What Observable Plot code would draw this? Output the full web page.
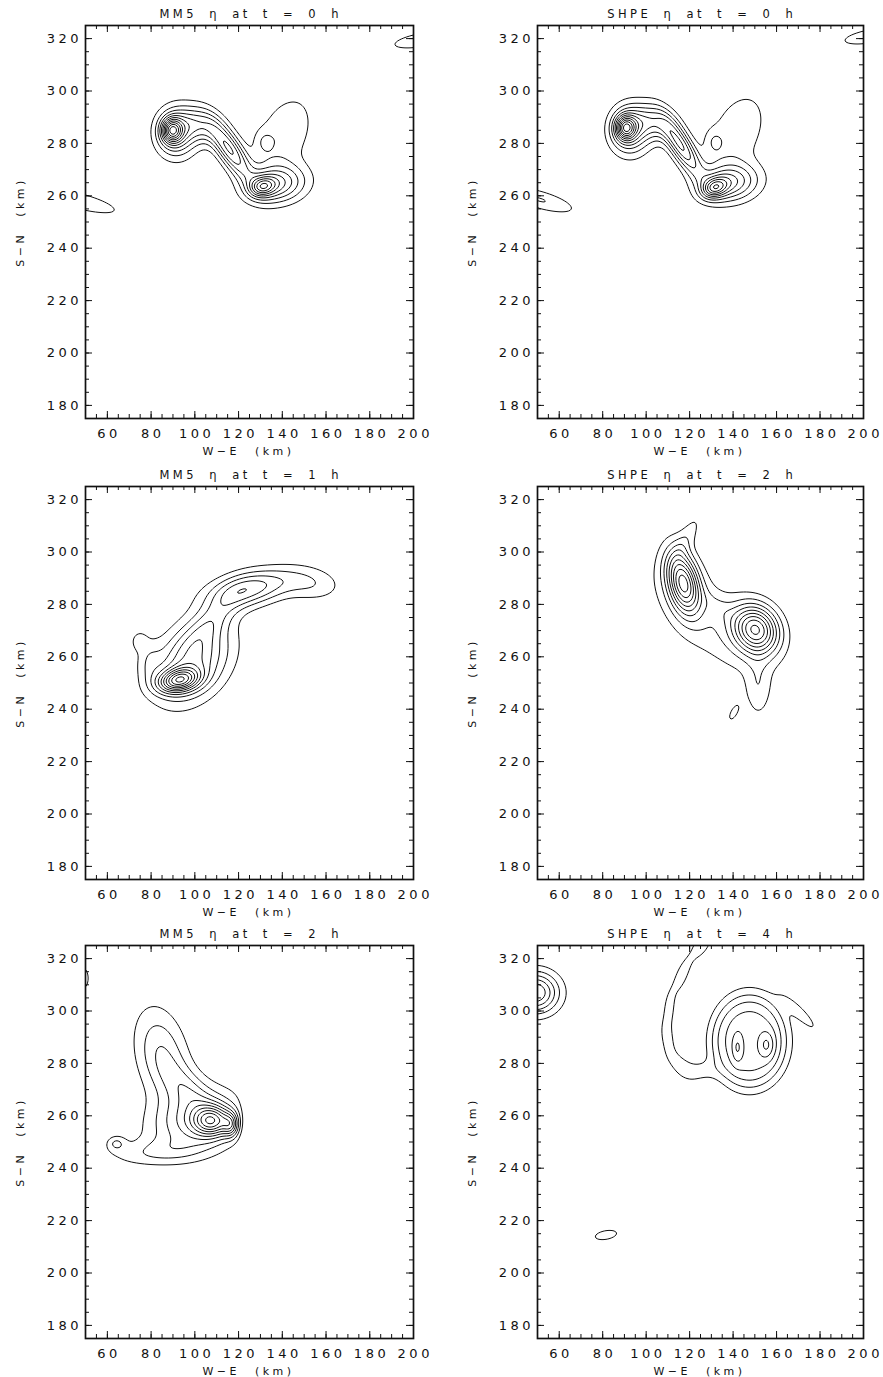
<!DOCTYPE html>
<html>
<head>
<meta charset="utf-8">
<script src="https://cdn.jsdelivr.net/npm/d3@7"></script>
<script src="https://cdn.jsdelivr.net/npm/@observablehq/plot@0.6"></script>
<style>
html,body{margin:0;padding:0;background:#fff;}
body{width:883px;height:1377px;position:relative;overflow:hidden;font-family:"DejaVu Sans",sans-serif;color:#111;}
.cell{position:absolute;}
.cell svg{display:block;overflow:visible;max-width:none;}
.cell svg text{letter-spacing:3.5px;}
.lbl{position:absolute;white-space:pre;line-height:1;}
.title{font-size:11.5px;letter-spacing:3.5px;word-spacing:5px;}
.xlab{font-size:11px;letter-spacing:3.5px;word-spacing:8px;}
</style>
</head>
<body>
<script>
// ---- data ----
const panelTitles = [
  "MM5 η at t = 0 h", "SHPE η at t = 0 h",
  "MM5 η at t = 1 h", "SHPE η at t = 2 h",
  "MM5 η at t = 2 h", "SHPE η at t = 4 h"
];
const xAxisTitle = "W−E (km)";
const yAxisTitle = "S−N (km)";
const xDomain = [50, 200];
const yDomain = [175, 325];
const xLabelTicks = [60, 80, 100, 120, 140, 160, 180, 200];
const xMajorTicks = [60, 80, 100, 120, 140, 160, 180];
const xMinorTicks = [55, 60, 65, 70, 75, 80, 85, 90, 95, 100, 105, 110, 115, 120, 125, 130, 135, 140, 145, 150, 155, 160, 165, 170, 175, 180, 185, 190, 195];
const yLabelTicks = [180, 200, 220, 240, 260, 280, 300, 320];
const yMinorTicks = [180, 185, 190, 195, 200, 205, 210, 215, 220, 225, 230, 235, 240, 245, 250, 255, 260, 265, 270, 275, 280, 285, 290, 295, 300, 305, 310, 315, 320];

// eta field features: [x km, y km, amplitude, spread along axis, spread across, axis angle deg, profile power]
const mm5T0Blobs = [
  [89.5, 285, 6.5, 3.2, 3.2, 0],
  [91.5, 284, 5.0, 6.3, 6.3, 0],
  [102, 287, 3.5, 7, 4.5, -15],
  [116, 277.5, 6.0, 9.5, 3.5, -50],
  [131, 263.5, 4.5, 4, 2.5, 10],
  [137, 264.5, 5.0, 9.5, 5, 5],
  [141, 283.5, 1.9, 12, 8, 55],
  [131.5, 280.5, 1.1, 3, 3.3, 0],
  [47, 258, 1.6, 17, 3, -12],
  [204, 319.5, 1.5, 14, 2.8, 8]
];
const shpeT0Blobs = [
  [90.5, 286, 6.5, 3.2, 3.2, 0],
  [92.5, 285, 5.0, 6.3, 6.3, 0],
  [103, 288, 3.5, 7, 4.5, -15],
  [116, 279, 6.0, 9.5, 3.3, -52],
  [131.5, 263, 4.8, 4, 2.5, 15],
  [138, 265, 5.0, 9.5, 5, 5],
  [142, 284.5, 1.9, 12, 8, 55],
  [131, 280.5, 1.2, 3, 3.5, 0],
  [51, 258.5, 2.05, 12.5, 2.7, -13],
  [204, 321, 1.5, 14, 2.8, 8]
];
const mm5T1Blobs = [
  [92.5, 251, 7.5, 6.5, 3.0, 8],
  [99, 258, 5.0, 13, 9, 35],
  [125, 286, 4.5, 13, 4.5, 10],
  [108, 274, 2.2, 11, 4.5, 40],
  [153, 288, 1.8, 10, 4.5, -5],
  [79, 258, 1.3, 4, 6, 0],
  [74.5, 266, 1.4, 2.5, 2.5, 0]
];
const shpeT2Blobs = [
  [117, 288.5, 8.5, 8.5, 4.8, -72],
  [150.5, 270.5, 8.5, 7.5, 6.2, -25],
  [129, 274, 1.7, 23, 10, -35],
  [133, 279, 0.8, 6, 3, -30],
  [119, 306, 1.3, 8, 2.8, 55],
  [151.5, 248, 1.5, 8, 4, 90],
  [140.3, 238.6, 1.3, 3.5, 1.6, 55]
];
const mm5T2Blobs = [
  [100, 258, 4.0, 14, 8, 10],
  [108, 258, 6.5, 6, 4, 0],
  [116.5, 256.5, 3.5, 2.5, 3.2, 0],
  [131, 257, -4.5, 5, 9, 0],
  [85, 283, 3.0, 13, 8, 108],
  [97, 270, 2.0, 9, 5, -40],
  [82, 246, 1.6, 16, 3.5, 3],
  [64, 249.5, 1.8, 3, 2, 0],
  [48.5, 312.5, 1.5, 3, 4.5, 0]
];
const shpeT4Blobs = [
  [49, 307, 6, 7.5, 5.5, 0],
  [147.5, 288.5, 4.6, 15, 15.5, 0, 4],
  [142, 286, 1.6, 1.8, 4, 0],
  [155.5, 287, 1.8, 2.5, 3.5, 0],
  [171, 299, 1.4, 9, 2.2, -40],
  [124, 277, 1.3, 6, 3, 0],
  [126, 326, 1.35, 7, 3.5, 55],
  [116, 313, 1.35, 6, 2.5, 65],
  [110.5, 300, 1.35, 6, 2.2, 85],
  [110, 289, 1.35, 5, 2.2, 105],
  [115, 280, 1.35, 5, 2.5, 140],
  [81.5, 214.5, 1.4, 6, 2, 8]
];
const mm5T0Levels = [1, 2, 3, 4, 5, 6, 7, 8, 9, 10, 11];
const shpeT0Levels = [1, 2, 3, 4, 5, 6, 7, 8, 9, 10, 11];
const mm5T1Levels = [1, 2, 3, 4, 5, 6, 7, 8, 9, 10, 11, 12];
const shpeT2Levels = [1, 2, 3, 4, 5, 6, 7, 8, 9];
const mm5T2Levels = [1, 2, 3, 4, 5, 6, 7, 8, 9, 10, 11];
const shpeT4Levels = [1, 2, 3, 4, 5, 6];

const panelBlobs = [mm5T0Blobs, shpeT0Blobs, mm5T1Blobs, shpeT2Blobs, mm5T2Blobs, shpeT4Blobs];
const panelLevels = [mm5T0Levels, shpeT0Levels, mm5T1Levels, shpeT2Levels, mm5T2Levels, shpeT4Levels];

// ---- rendering ----
function fieldOf(blobs) {
  return (x, y) => {
    let s = 0;
    for (const [bx, by, a, su, sv, ang, p = 2] of blobs) {
      const t = ang * Math.PI / 180, c = Math.cos(t), n = Math.sin(t);
      const dx = x - bx, dy = y - by;
      const u = (dx * c + dy * n) / su, v = (-dx * n + dy * c) / sv;
      const q = u * u + v * v;
      s += a * Math.exp(-0.5 * (p === 2 ? q : Math.pow(q, p / 2)));
    }
    return s;
  };
}

const frameTops = [25, 486, 945];
const frameLefts = [85, 537];
const frameWidths = [328, 326];
const frameH = 393;
const mL = 85, mT = 25, mR = 20, mB = 30;
const ink = "#111";
const fontFamily = '"DejaVu Sans", sans-serif';

function addLabel(text, cls, cx, top, rotate) {
  const d = document.createElement("div");
  d.className = "lbl " + cls;
  d.textContent = text;
  d.style.left = cx + "px";
  d.style.top = top + "px";
  d.style.transform = rotate ? "translate(-50%,-50%) rotate(-90deg)" : "translateX(-50%)";
  document.body.appendChild(d);
}

panelTitles.forEach((title, i) => {
  const col = i % 2, row = Math.floor(i / 2);
  const fl = frameLefts[col], ft = frameTops[row], fw = frameWidths[col];
  const svg = Plot.plot({
    width: mL + fw + mR,
    height: mT + frameH + mB,
    marginLeft: mL, marginTop: mT, marginRight: mR, marginBottom: mB,
    x: {domain: xDomain},
    y: {domain: yDomain},
    style: {fontFamily, fontSize: "13px", color: ink, background: "transparent"},
    marks: [
      Plot.contour({
        value: fieldOf(panelBlobs[i]),
        x1: xDomain[0], x2: xDomain[1], y1: yDomain[0], y2: yDomain[1],
        thresholds: panelLevels[i],
        stroke: ink, fill: "none", strokeWidth: 1, pixelSize: 1
      }),
      Plot.tickX(xMinorTicks, {x: d => d, insetTop: frameH - 4, stroke: ink}),
      Plot.tickX(xMinorTicks, {x: d => d, insetBottom: frameH - 4, stroke: ink}),
      Plot.tickX(xMajorTicks, {x: d => d, insetTop: frameH - 7, stroke: ink}),
      Plot.tickX(xMajorTicks, {x: d => d, insetBottom: frameH - 7, stroke: ink}),
      Plot.tickY(yMinorTicks, {y: d => d, insetRight: fw - 4, stroke: ink}),
      Plot.tickY(yMinorTicks, {y: d => d, insetLeft: fw - 4, stroke: ink}),
      Plot.tickY(yLabelTicks, {y: d => d, insetRight: fw - 7, stroke: ink}),
      Plot.tickY(yLabelTicks, {y: d => d, insetLeft: fw - 7, stroke: ink}),
      Plot.frame({stroke: ink, strokeWidth: 1.7}),
      Plot.axisX({anchor: "bottom", ticks: xLabelTicks, tickSize: 0, tickPadding: 10, label: null, dx: 1.75, fontSize: 13, fontFamily}),
      Plot.axisY({anchor: "left", ticks: yLabelTicks, tickSize: 0, tickPadding: 3.5, label: null, fontSize: 13, fontFamily})
    ]
  });
  const cell = document.createElement("div");
  cell.className = "cell";
  cell.style.left = (fl - mL) + "px";
  cell.style.top = (ft - mT) + "px";
  cell.style.width = (mL + fw + mR) + "px";
  cell.appendChild(svg);
  document.body.appendChild(cell);

  addLabel(title, "title", fl + fw / 2 + 1.75, ft - 15.7, false);
  addLabel(xAxisTitle, "xlab", fl + fw / 2 - 0.5, ft + frameH + 27.5, false);
  addLabel(yAxisTitle, "xlab", fl - 65, ft + frameH / 2, true);
});
</script>
</body>
</html>
